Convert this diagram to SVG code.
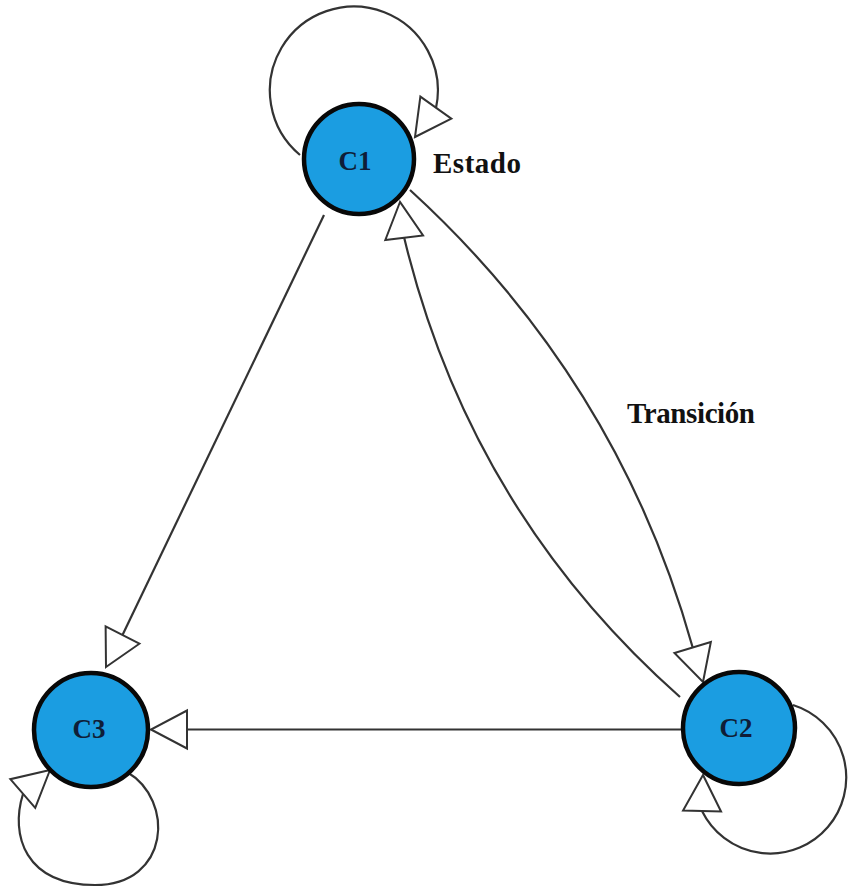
<svg xmlns="http://www.w3.org/2000/svg" xmlns:xlink="http://www.w3.org/1999/xlink" width="849" height="887" viewBox="0 0 849 887">
  <defs>
    <!-- open triangular arrowhead, tip at the origin, pointing along +x -->
    <path id="ah" d="M0,0 L-36,-19 L-36,19 Z"/>
  </defs>
  <style>
    .edge { fill: none; stroke: #333333; stroke-width: 2.2; }
    .head { fill: #ffffff; stroke: #333333; stroke-width: 2; stroke-linejoin: miter; }
    .state { fill: #1b9de1; stroke: #080808; stroke-width: 4.5; }
    .state-label { font-family: "Liberation Serif", "Times New Roman", serif; font-weight: bold; font-size: 27px; fill: #0f1d38; text-anchor: middle; }
    .note { font-family: "Liberation Serif", "Times New Roman", serif; font-weight: bold; font-size: 29px; fill: #111111; }
  </style>
  <rect width="849" height="887" fill="#ffffff"/>

  <g id="connectors">
    <!-- self loop on C1 -->
    <path class="edge" d="M300,155 A84,84 0 1 1 436,108"/>
    <!-- C1 to C3 -->
    <path class="edge" d="M324,215 L122.5,635"/>
    <!-- C2 to C3 -->
    <path class="edge" d="M681,729.5 L187,729.5"/>
    <!-- C1 to C2 (outer curve) -->
    <path class="edge" d="M410,190 Q618,380 692.7,647.5"/>
    <!-- C2 to C1 (inner curve) -->
    <path class="edge" d="M680,697 Q470,511 404.2,237.8"/>
    <!-- self loop on C2 -->
    <path class="edge" d="M793,705 A76,76 0 1 1 702,811"/>
    <!-- self loop on C3 -->
    <path class="edge" d="M127,772 C175,800 170,885 95,885 C25,885 10,835 23,794"/>

    <use xlink:href="#ah" class="head" transform="translate(415,137) rotate(125.4)"/>
    <use xlink:href="#ah" class="head" transform="translate(106,667) rotate(117.3)"/>
    <use xlink:href="#ah" class="head" transform="translate(151,729.5) rotate(180)"/>
    <use xlink:href="#ah" class="head" transform="translate(703,682) rotate(73.3)"/>
    <use xlink:href="#ah" class="head" transform="translate(400,202) rotate(-96.7)"/>
    <use xlink:href="#ah" class="head" transform="translate(703,775) rotate(-88.5)"/>
    <use xlink:href="#ah" class="head" transform="translate(50,770) rotate(-40.9)"/>
  </g>

  <g id="C1">
    <circle class="state" cx="359" cy="159" r="55"/>
    <text class="state-label" x="355" y="170">C1</text>
  </g>
  <g id="C2">
    <circle class="state" cx="739" cy="728" r="56"/>
    <text class="state-label" x="736" y="737">C2</text>
  </g>
  <g id="C3">
    <circle class="state" cx="91" cy="730" r="57"/>
    <text class="state-label" x="89" y="738">C3</text>
  </g>

  <g id="labels">
    <text class="note" x="433" y="173" textLength="88">Estado</text>
    <text class="note" x="627" y="423" textLength="128">Transición</text>
  </g>
</svg>
